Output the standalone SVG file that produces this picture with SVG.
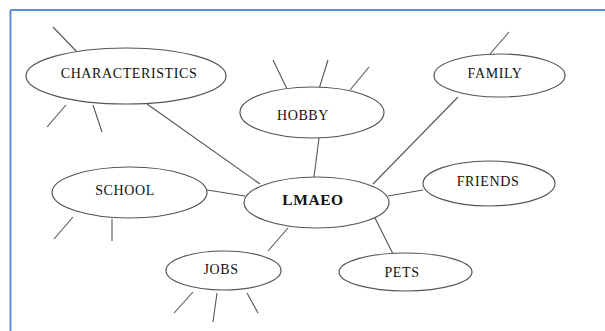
<svg xmlns="http://www.w3.org/2000/svg" width="605" height="331" viewBox="0 0 605 331">
<style>
.n ellipse{fill:#fff;stroke:#555;stroke-width:1.2}
.n text{font-family:"Liberation Serif","Times New Roman",serif;font-size:14px;fill:#111;text-anchor:middle;letter-spacing:0.6px}
#conn line{stroke:#555;stroke-width:1.1}
</style>
<rect width="605" height="331" fill="#fff"/>
<g id="border" stroke="#5b8fd6" stroke-width="2" fill="none">
<line x1="10.5" y1="10" x2="605" y2="10"/>
<line x1="10.5" y1="10" x2="10.5" y2="331"/>
</g>
<g id="conn">
<line x1="53" y1="27" x2="78" y2="53"/>
<line x1="66" y1="105" x2="47" y2="127"/>
<line x1="93" y1="105" x2="102" y2="132"/>
<line x1="147" y1="104" x2="260" y2="184"/>
<line x1="273" y1="60" x2="288" y2="91"/>
<line x1="328" y1="60" x2="319" y2="89"/>
<line x1="369" y1="67" x2="350" y2="90"/>
<line x1="319" y1="138" x2="314" y2="177"/>
<line x1="509" y1="32" x2="490" y2="54"/>
<line x1="458" y1="97" x2="373" y2="184"/>
<line x1="423" y1="190" x2="388" y2="196"/>
<line x1="73" y1="217" x2="54" y2="239"/>
<line x1="112" y1="219" x2="112" y2="241"/>
<line x1="207" y1="190" x2="245" y2="196"/>
<line x1="288" y1="228" x2="268" y2="251"/>
<line x1="193" y1="292" x2="174" y2="313"/>
<line x1="217" y1="293" x2="213" y2="322"/>
<line x1="247" y1="293" x2="258" y2="313"/>
<line x1="375" y1="218" x2="393" y2="254"/>
</g>
<g id="characteristics" class="n"><ellipse cx="126" cy="76" rx="100" ry="28"/><text x="129" y="78">CHARACTERISTICS</text></g>
<g id="hobby" class="n"><ellipse cx="312" cy="112.5" rx="72" ry="25.5"/><text x="303" y="120">HOBBY</text></g>
<g id="family" class="n"><ellipse cx="499.5" cy="75.5" rx="65.5" ry="21.5"/><text x="495" y="78">FAMILY</text></g>
<g id="friends" class="n"><ellipse cx="489" cy="183.5" rx="66" ry="22.5"/><text x="488" y="186">FRIENDS</text></g>
<g id="school" class="n"><ellipse cx="129.5" cy="192.5" rx="77.5" ry="25.5"/><text x="125" y="195">SCHOOL</text></g>
<g id="lmaeo" class="n"><ellipse cx="316.5" cy="202.5" rx="72.5" ry="25.5"/><text x="313" y="205" style="font-weight:bold;font-size:15.5px">LMAEO</text></g>
<g id="jobs" class="n"><ellipse cx="223.5" cy="270.5" rx="57.5" ry="19.5"/><text x="221" y="274">JOBS</text></g>
<g id="pets" class="n"><ellipse cx="405.5" cy="272" rx="66.5" ry="19"/><text x="402" y="277">PETS</text></g>
</svg>
